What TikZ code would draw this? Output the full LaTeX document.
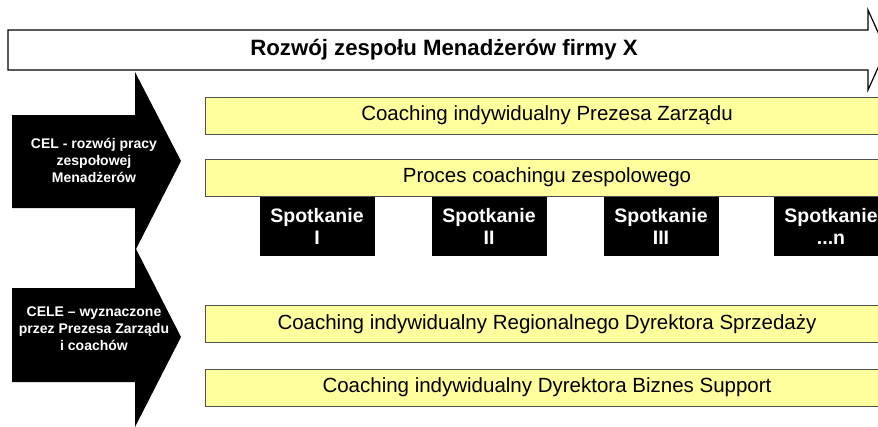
\documentclass[tikz,border=0pt]{standalone}
\usepackage{fontspec}
\setmainfont{Liberation Sans}
\usetikzlibrary{positioning}
\definecolor{boxyellow}{HTML}{FFFF9E}
\definecolor{boxedge}{HTML}{505050}
\tikzset{
  ybox/.style    ={draw=boxedge,line width=1pt,fill=boxyellow,minimum height=37pt,minimum width=683pt,
                   inner sep=0pt,font=\fontsize{20.5}{24}\selectfont},
  meet/.style    ={fill=black,text=white,minimum width=115pt,minimum height=59pt,inner sep=0pt,
                   align=center,font=\bfseries\fontsize{19.5}{22}\selectfont},
  goal/.style    ={fill=black},
  goaltext/.style={text=white,align=center,font=\bfseries\fontsize{14}{17}\selectfont},
  bigarrow/.style={draw=black,line width=1.2pt,fill=white},
}
\newcommand{\lastmeet}{...n}

\begin{document}
\begin{tikzpicture}[x=1pt,y=-1pt]
  \useasboundingbox (0,0) rectangle (878,426);
  \clip (0,0) rectangle (878,426);
  % main arrow
  \draw[bigarrow] (8,30) -- (868,30) -- (868,10) -- (886,50) -- (868,90) -- (868,70) -- (8,70) -- cycle;
  \node[font=\bfseries\fontsize{22.2}{26}\selectfont] (title) at (444,50) {Rozwój zespołu Menadżerów firmy X};
  % goal arrows
  \fill[goal] (12,115) -- (135,115) -- (135,72) -- (181,161) -- (135,251) -- (135,208) -- (12,208) -- cycle;
  \fill[goal] (12,288) -- (135,288) -- (135,247) -- (181,337) -- (135,427) -- (135,382) -- (12,382) -- cycle;
  \node[goaltext] (cel) at (94,160) {CEL - rozwój pracy\\zespołowej\\Menadżerów};
  \node[goaltext] (cele) at (94,329) {CELE – wyznaczone\\przez Prezesa Zarządu\\i coachów};
  % coaching bars
  \node[ybox,anchor=west] (prezes) at (205,115.5) {Coaching indywidualny Prezesa Zarządu};
  \node[ybox,anchor=west] (proces) at (205,177.5) {Proces coachingu zespolowego};
  \node[ybox,anchor=west] (regional) at (205,324) {Coaching indywidualny Regionalnego Dyrektora Sprzedaży};
  \node[ybox,anchor=west] (biznes) at (205,387.5) {Coaching indywidualny Dyrektora Biznes Support};
  % meetings
  \foreach \x/\nr/\name in {317/I/meetA,489/II/meetB,661/III/meetC,831/\lastmeet/meetD}{
     \node[meet] (\name) at (\x,226.5) {Spotkanie\\\nr};
  }
\end{tikzpicture}
\end{document}
